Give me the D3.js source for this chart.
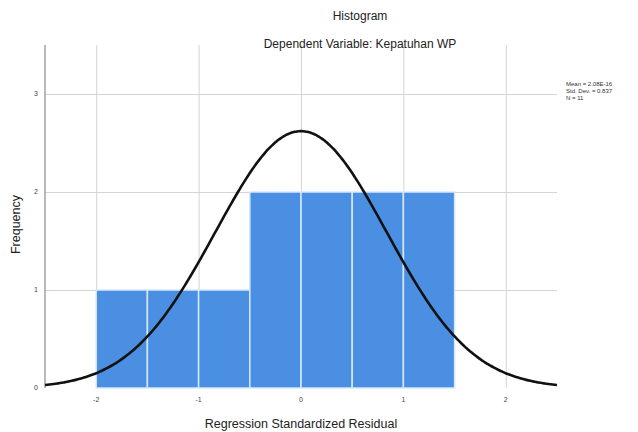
<!DOCTYPE html>
<html>
<head>
<meta charset="utf-8">
<script src="https://cdn.jsdelivr.net/npm/d3@7"></script>
<style>
  body { margin: 0; background: #fff; }
  svg { font-family: "Liberation Sans", Arial, sans-serif; }
  .grid line { stroke: #d4d4d4; stroke-width: 1; }
  .grid path { display: none; }
</style>
</head>
<body>
<script>
// histogram bins (lower edge, upper edge, count)
var binStarts = [-2, -1.5, -1, -0.5, 0, 0.5, 1];
var binEnds = [-1.5, -1, -0.5, 0, 0.5, 1, 1.5];
var binCounts = [1, 1, 1, 2, 2, 2, 2];
var xTicks = [-2, -1, 0, 1, 2];
var yTicks = [0, 1, 2, 3];
var statLines = ["Mean = 2.08E-16", "Std. Dev. = 0.837", "N = 11"];
var curveMean = 0;
var curveSd = 0.837;
var curveN = 11;
var binWidth = 0.5;

var width = 638, height = 432;
var margin = { left: 45, right: 81, top: 45, bottom: 44 };
var w = width - margin.left - margin.right;
var h = height - margin.top - margin.bottom;

var svg = d3.select("body").append("svg")
  .attr("width", width)
  .attr("height", height);

var x = d3.scaleLinear().domain([-2.5, 2.5]).range([0, w]);
var y = d3.scaleLinear().domain([0, 3.5]).range([h, 0]);

var chartGroup = svg.append("g")
  .attr("transform", "translate(" + margin.left + "," + margin.top + ")");

// gridlines
chartGroup.append("g")
  .attr("class", "grid")
  .call(d3.axisLeft(y).tickValues(yTicks.slice(1)).tickSize(-w).tickFormat(""));
chartGroup.append("g")
  .attr("class", "grid")
  .attr("transform", "translate(0," + h + ")")
  .call(d3.axisBottom(x).tickValues(xTicks).tickSize(-h).tickFormat(""));

// bars
var bins = binStarts.map(function(s, i) {
  return { x0: s, x1: binEnds[i], count: binCounts[i] };
});
chartGroup.selectAll("rect.bar")
  .data(bins)
  .enter()
  .append("rect")
  .attr("class", "bar")
  .attr("x", function(d) { return x(d.x0); })
  .attr("width", function(d) { return x(d.x1) - x(d.x0); })
  .attr("y", function(d) { return y(d.count); })
  .attr("height", function(d) { return y(0) - y(d.count); })
  .attr("fill", "#4a8fe2")
  .attr("stroke", "#d6e9fb")
  .attr("stroke-width", 1.5);

// left axis line
chartGroup.append("line")
  .attr("x1", 0).attr("x2", 0)
  .attr("y1", 0).attr("y2", h)
  .attr("stroke", "#8c8c8c")
  .attr("stroke-width", 1.2);

// normal curve
var pts = d3.range(-2.5, 2.5001, 0.02);
var normal = d3.line()
  .x(function(v) { return x(v); })
  .y(function(v) {
    var z = (v - curveMean) / curveSd;
    return y(curveN * binWidth * Math.exp(-0.5 * z * z) / (curveSd * Math.sqrt(2 * Math.PI)));
  })
  .curve(d3.curveBasis);
chartGroup.append("path")
  .attr("d", normal(pts))
  .attr("fill", "none")
  .attr("stroke", "#111")
  .attr("stroke-width", 2.6);

// tick labels
chartGroup.selectAll("text.ytick")
  .data(yTicks)
  .enter()
  .append("text")
  .attr("class", "ytick")
  .attr("x", -7)
  .attr("y", function(d) { return y(d); })
  .attr("dy", "0.35em")
  .attr("text-anchor", "end")
  .style("font-size", "7px")
  .style("fill", "#444")
  .text(function(d) { return d; });

chartGroup.selectAll("text.xtick")
  .data(xTicks)
  .enter()
  .append("text")
  .attr("class", "xtick")
  .attr("x", function(d) { return x(d); })
  .attr("y", h + 14)
  .attr("text-anchor", "middle")
  .style("font-size", "7px")
  .style("fill", "#444")
  .text(function(d) { return d; });

// titles
svg.append("text")
  .attr("x", 360).attr("y", 20)
  .attr("text-anchor", "middle")
  .style("font-size", "12px")
  .style("fill", "#222")
  .text("Histogram");
svg.append("text")
  .attr("x", 360).attr("y", 48)
  .attr("text-anchor", "middle")
  .style("font-size", "12px")
  .style("fill", "#222")
  .text("Dependent Variable: Kepatuhan WP");

svg.append("text")
  .attr("x", margin.left + x(0))
  .attr("y", 428)
  .attr("text-anchor", "middle")
  .style("font-size", "12.5px")
  .style("fill", "#222")
  .text("Regression Standardized Residual");

svg.append("text")
  .attr("transform", "translate(20," + (margin.top + h / 2 + 8) + ") rotate(-90)")
  .attr("text-anchor", "middle")
  .style("font-size", "12.5px")
  .style("fill", "#222")
  .text("Frequency");

// stats legend
svg.selectAll("text.stat")
  .data(statLines)
  .enter()
  .append("text")
  .attr("class", "stat")
  .attr("x", 566)
  .attr("y", function(d, i) { return 86 + i * 7; })
  .style("font-size", "6px")
  .style("fill", "#333")
  .text(function(d) { return d; });
</script>
</body>
</html>
